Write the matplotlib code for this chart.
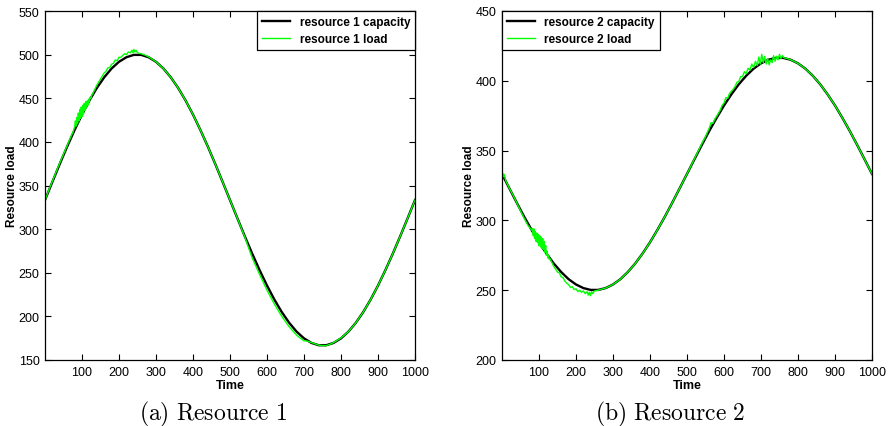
import matplotlib
matplotlib.use("Agg")
import matplotlib.pyplot as plt

plt.rcParams['font.family'] = ['Liberation Sans', 'DejaVu Sans']
plt.rcParams['mathtext.fontset'] = 'cm'

# capacity curves, sampled every 20 time units
cap_time = list(range(0, 1001, 20))
cap1 = [333.3, 354.2, 374.8, 394.7, 413.6, 431.3, 447.4, 461.7, 474.0, 484.1,
        491.8, 497.0, 499.7, 499.7, 497.0, 491.8, 484.1, 474.0, 461.7, 447.4,
        431.3, 413.6, 394.7, 374.8, 354.2, 333.3, 312.4, 291.8, 271.9, 253.0,
        235.3, 219.2, 204.9, 192.6, 182.5, 174.8, 169.6, 166.9, 166.9, 169.6,
        174.8, 182.5, 192.6, 204.9, 219.2, 235.3, 253.0, 271.9, 291.8, 312.4,
        333.3]
cap2 = [333.3, 322.9, 312.6, 302.6, 293.2, 284.3, 276.3, 269.1, 263.0, 257.9,
        254.1, 251.5, 250.2, 250.2, 251.5, 254.1, 257.9, 263.0, 269.1, 276.3,
        284.3, 293.2, 302.6, 312.6, 322.9, 333.3, 343.7, 354.0, 364.0, 373.4,
        382.3, 390.3, 397.5, 403.6, 408.7, 412.5, 415.1, 416.4, 416.4, 415.1,
        412.5, 408.7, 403.6, 397.5, 390.3, 382.3, 373.4, 364.0, 354.0, 343.7,
        333.3]

# resource 1 load
load1_time = [0, 10, 20, 30, 40, 50, 60, 70, 76,
              80, 82, 84, 86, 88, 90, 92, 94, 96, 98, 100, 102, 104, 106, 108,
              110, 112, 114, 116, 118, 120, 122, 124, 126,
              130, 140, 150, 160, 165, 170, 175, 180, 185, 190, 195, 200, 205,
              210, 215, 220, 225, 230, 235, 238, 240, 243, 246, 250, 260, 270, 280,
              300, 320, 340, 360, 380, 400, 420, 440, 460, 480, 500, 520, 540,
              560, 580, 600, 620, 640, 660, 680, 690, 700, 705, 710, 720, 730,
              740, 750, 760, 770, 780, 800, 820, 840, 860, 880, 900, 920, 940,
              960, 980, 1000]
load1 = [333.0, 344.5, 355.0, 365.5, 376.0, 386.0, 396.0, 406.0, 411.5,
         417, 424, 418, 428, 421, 433, 424, 437, 427, 440, 429, 442, 432, 444, 436,
         446, 439, 447, 442, 449, 446, 451, 450, 453,
         456, 465, 472, 479, 481, 485, 485, 489, 490, 494, 493, 497, 497,
         499, 501, 500, 503, 502, 505, 502, 506, 503, 505, 502, 501, 499.5, 497.5,
         491.8, 484.1, 474.0, 461.7, 447.4, 431.3, 413.6, 394.7, 374.8, 354.2,
         333.3, 312.4, 291.0,
         267, 248, 230, 214, 200, 188, 178.5, 175, 172, 172, 171.5, 170, 168.5,
         167, 166.5, 166.5, 168, 170, 175.3, 182.5, 192.6, 204.9, 219.2, 235.3,
         253.0, 271.9, 291.8, 312.4, 333.3]

# resource 2 load
load2_time = [0, 3, 6, 10, 20, 30, 40, 50, 60, 70, 76,
              80, 82, 84, 86, 88, 90, 92, 94, 96, 98, 100, 102, 104, 106, 108,
              110, 112, 114, 116, 118, 120, 122, 124, 126, 128,
              130, 140, 150, 155, 160, 165, 170, 175, 180, 185, 190, 195, 200,
              205, 210, 215, 220, 225, 230, 233, 236, 239, 242, 245, 250, 260,
              270, 280,
              300, 320, 340, 360, 380, 400, 420, 440, 460, 480, 500, 520, 530,
              540, 550, 555, 560, 565, 570, 575, 580, 590, 595, 600, 605, 610,
              615, 620, 625, 630, 635, 640, 645, 650, 655, 660, 665, 670, 675,
              680, 685, 690, 694, 698, 702, 706, 710, 714, 718, 722, 726, 730,
              734, 738, 742, 746, 750, 754, 758, 762, 770, 780, 800, 820, 840,
              860, 880, 900, 920, 940, 960, 980, 1000]
load2 = [336, 331, 333, 328.5, 323, 318, 312.5, 307, 301.5, 296.5, 294.5,
         293, 294, 289, 294, 287, 292, 285, 291, 284, 290, 282, 289, 281, 288, 280,
         287, 279, 285, 277, 282, 275, 278, 273, 275, 272,
         272.5, 267, 263, 262.5, 259.5, 259, 256.5, 255, 254, 252, 252.5, 250.5,
         251, 249, 250, 248.5, 249.5, 247.5, 249, 246.5, 248.5, 246, 249, 247.5,
         249.5, 250, 250.8, 251.5,
         254.1, 257.9, 263.0, 269.1, 276.3, 284.3, 293.2, 302.6, 312.6, 322.9,
         333.3, 344.0, 349.5, 355, 360, 363, 366, 370, 369.5, 372.5, 374.5, 379,
         382.5, 384, 388, 387.5, 391, 392.5, 394, 396, 399, 399.5, 403, 403,
         406.5, 405, 409, 407.5, 412, 409.5, 414, 411, 417, 412, 419, 413,
         417.5, 412, 416, 411.5, 415, 413, 418, 414, 417.5, 415, 419, 416, 418,
         416.5, 416, 415.1, 412.5, 408.7, 403.6, 397.5, 390.3, 382.3, 373.4,
         364.0, 354.0, 343.7, 333.3]

panels = [
    (cap1, load1_time, load1, (150, 550), 'upper right', 'resource 1',
     r'$\mathrm{(a)\ Resource\ 1}$'),
    (cap2, load2_time, load2, (200, 450), 'upper left', 'resource 2',
     r'$\mathrm{(b)\ Resource\ 2}$'),
]

fig = plt.figure(figsize=(8.89, 4.27), dpi=100)
lefts = [45 / 889, 502 / 889]

for left, (cap, lt, ld, ylim, loc, name, caption) in zip(lefts, panels):
    ax = fig.add_axes([left, 66 / 427, 370 / 889, 349 / 427])
    ax.plot(cap_time, cap, color='black', lw=1.7, label=name + ' capacity')
    ax.plot(lt, ld, color='#00ff00', lw=1.0, label=name + ' load')
    ax.set_xlim(0, 1000)
    ax.set_ylim(*ylim)
    ax.set_xticks(range(100, 1001, 100))
    ax.set_yticks(range(ylim[0], ylim[1] + 1, 50))
    ax.tick_params(direction='in', top=True, right=True, labelsize=9,
                   length=4, width=0.8, pad=4)
    for sp in ax.spines.values():
        sp.set_linewidth(0.9)
    ax.set_xlabel('Time', fontsize=9, fontweight='bold', labelpad=1)
    ax.set_ylabel('Resource load', fontsize=8.5, fontweight='bold', labelpad=0)
    leg = ax.legend(loc=loc, borderaxespad=0, fancybox=False,
                    prop={'weight': 'bold', 'size': 8.5}, handlelength=2.4,
                    labelspacing=0.45, framealpha=1)
    leg.get_frame().set_edgecolor('black')
    leg.get_frame().set_linewidth(0.9)
    fig.text(left + 168 / 889, 0.03, caption, fontsize=17,
             ha='center', va='center')

fig.savefig('out.png', dpi=100)
